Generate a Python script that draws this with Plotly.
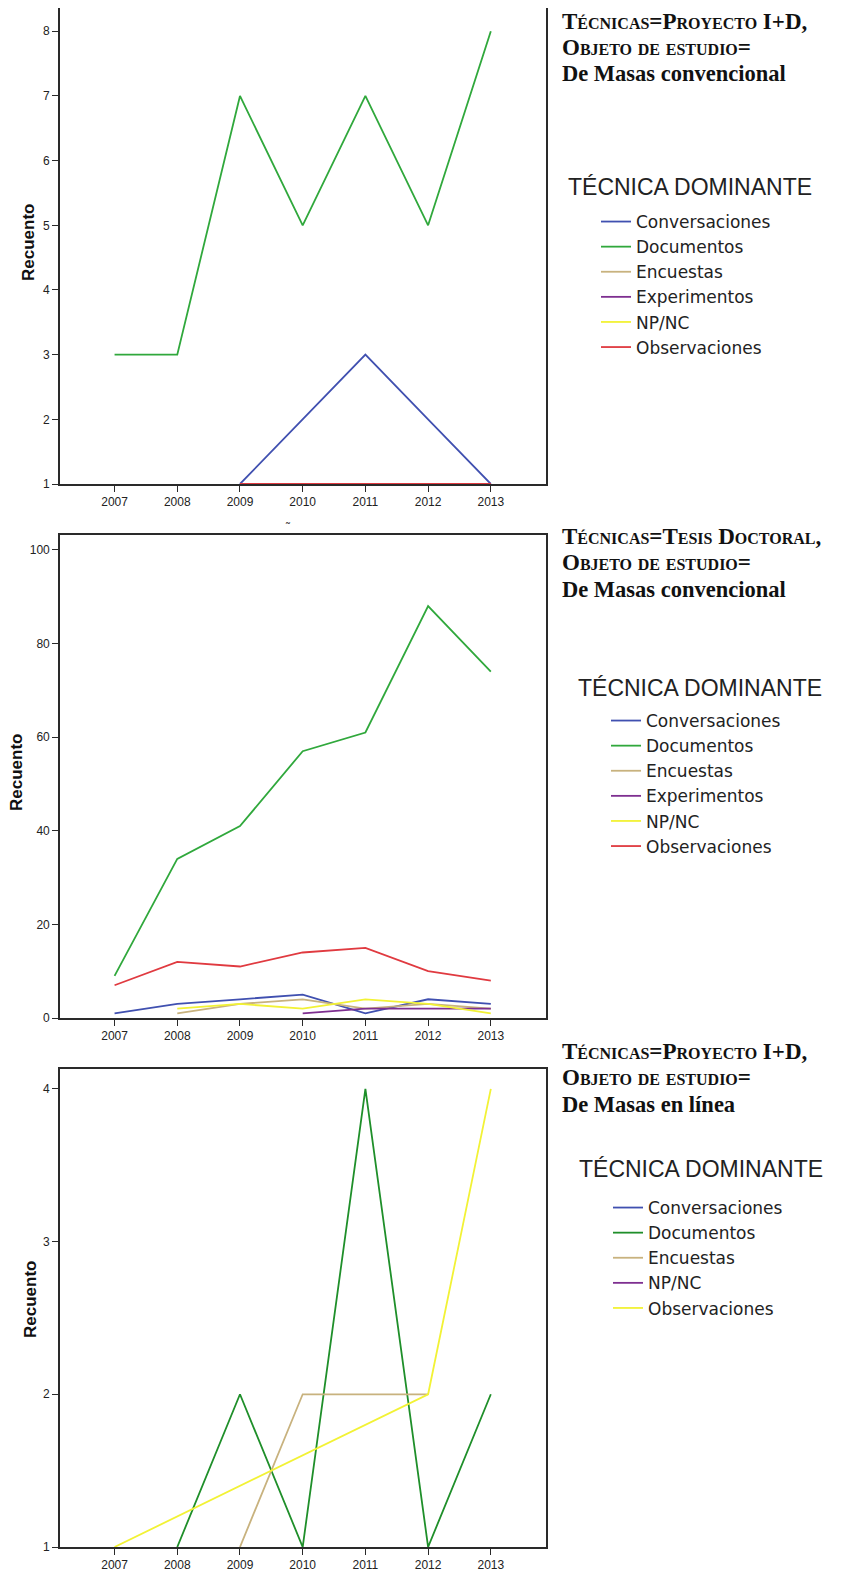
import plotly.graph_objects as go

# Page body has an 8px default margin; the figure is sized to fit the window.
OX, OY = 8, 8
FW, FH = 843 - OX, 1571 - OY

years = [2007, 2008, 2009, 2010, 2011, 2012, 2013]
tick_years = [2007, 2008, 2009, 2010, 2011, 2012, 2013]

# Chart 1: Técnicas=Proyecto I+D, De Masas convencional
c1_conversaciones = [None, None, 1, 2, 3, 2, 1]
c1_documentos = [3, 3, 7, 5, 7, 5, 8]
c1_encuestas = [None] * 7
c1_experimentos = [None] * 7
c1_npnc = [None] * 7
c1_observaciones = [None, None, 1, 1, 1, 1, 1]
c1_yticks = [1, 2, 3, 4, 5, 6, 7, 8]

# Chart 2: Técnicas=Tesis Doctoral, De Masas convencional
c2_conversaciones = [1, 3, 4, 5, 1, 4, 3]
c2_documentos = [9, 34, 41, 57, 61, 88, 74]
c2_encuestas = [None, 1, 3, 4, 2, 3, 2]
c2_experimentos = [None, None, None, 1, 2, 2, 2]
c2_npnc = [None, 2, 3, 2, 4, 3, 1]
c2_observaciones = [7, 12, 11, 14, 15, 10, 8]
c2_yticks = [0, 20, 40, 60, 80, 100]

# Chart 3: Técnicas=Proyecto I+D, De Masas en línea
c3_conversaciones = [None] * 7
c3_documentos = [None, 1, 2, 1, 4, 1, 2]
c3_encuestas = [None, None, 1, 2, 2, 2, None]
c3_npnc = [None] * 7
c3_observaciones = [1, None, None, None, None, 2, 4]
c3_yticks = [1, 2, 3, 4]

BLUE = "#4050b0"
GREEN = "#30a83c"
GREEN3 = "#1f8f2a"
TAN = "#c8b27e"
PURPLE = "#7e2f90"
YELLOW = "#f2f235"
RED = "#e03a40"


def px(x):
    return (x - OX) / FW


def py(y):
    return 1 - (y - OY) / FH


fig = go.Figure()

panels = [
    dict(ax="", top=8, bottom=484, yr=[1, 8.36], ticks=c1_yticks, legend="legend",
         series=[("Conversaciones", c1_conversaciones, BLUE),
                 ("Documentos", c1_documentos, GREEN),
                 ("Encuestas", c1_encuestas, TAN),
                 ("Experimentos", c1_experimentos, PURPLE),
                 ("NP/NC", c1_npnc, YELLOW),
                 ("Observaciones", c1_observaciones, RED)]),
    dict(ax="2", top=535, bottom=1018, yr=[0, 103.2], ticks=c2_yticks, legend="legend2",
         series=[("Conversaciones", c2_conversaciones, BLUE),
                 ("Documentos", c2_documentos, GREEN),
                 ("Encuestas", c2_encuestas, TAN),
                 ("Experimentos", c2_experimentos, PURPLE),
                 ("NP/NC", c2_npnc, YELLOW),
                 ("Observaciones", c2_observaciones, RED)]),
    dict(ax="3", top=1069, bottom=1547, yr=[1, 4.13], ticks=c3_yticks, legend="legend3",
         series=[("Conversaciones", c3_conversaciones, BLUE),
                 ("Documentos", c3_documentos, GREEN3),
                 ("Encuestas", c3_encuestas, TAN),
                 ("NP/NC", c3_npnc, PURPLE),
                 ("Observaciones", c3_observaciones, YELLOW)]),
]

axis_common = dict(showline=True, linecolor="#2a2a2a", linewidth=1.6, mirror=True,
                   ticks="outside", ticklen=6, tickwidth=1.4, tickcolor="#2a2a2a",
                   showgrid=False, zeroline=False, automargin=False,
                   tickfont=dict(family="Liberation Sans", size=12, color="#222"))

for p in panels:
    for name, vals, col in p["series"]:
        fig.add_trace(go.Scatter(x=years, y=vals, mode="lines", name=name,
                                 line=dict(color=col, width=1.8),
                                 connectgaps=True,
                                 xaxis="x" + p["ax"], yaxis="y" + p["ax"],
                                 legend=p["legend"]))
    xa = dict(axis_common, domain=[px(60), px(546)], range=[2006.13, 2013.88],
              tickvals=tick_years, anchor="y" + p["ax"])
    ya = dict(axis_common, domain=[max(0, py(p["bottom"])), min(1, py(p["top"]))],
              range=p["yr"], tickvals=p["ticks"], anchor="x" + p["ax"])
    fig.layout["xaxis" + p["ax"]] = xa
    fig.layout["yaxis" + p["ax"]] = ya

legend_common = dict(bgcolor="rgba(0,0,0,0)", borderwidth=0, xanchor="left", yanchor="top",
                     font=dict(family="DejaVu Sans", size=17, color="#222"),
                     tracegroupgap=0, itemwidth=30, traceorder="normal")
fig.update_layout(
    legend=dict(legend_common, x=px(596), y=py(204)),
    legend2=dict(legend_common, x=px(606), y=py(703)),
    legend3=dict(legend_common, x=px(608), y=py(1190)),
)

annotations = []
title_sets = [
    (560, [21, 47, 73], ["Técnicas=Proyecto I+D,", "Objeto de estudio=", "De Masas convencional"], 187, 566),
    (560, [536, 562, 589], ["Técnicas=Tesis Doctoral,", "Objeto de estudio=", "De Masas convencional"], 688, 576),
    (560, [1051, 1077, 1104], ["Técnicas=Proyecto I+D,", "Objeto de estudio=", "De Masas en línea"], 1169, 577),
]
for x0, ys, lines, ty, tx in title_sets:
    for i, (yy, txt) in enumerate(zip(ys, lines)):
        annotations.append(dict(
            x=px(x0), y=py(yy), xref="paper", yref="paper", xanchor="left", yanchor="middle",
            text=txt, showarrow=False,
            font=dict(family="Liberation Serif", size=23 if i < 2 else 22.5, color="#111",
                      weight="bold", variant="small-caps" if i < 2 else "normal")))
    annotations.append(dict(
        x=px(tx), y=py(ty), xref="paper", yref="paper", xanchor="left", yanchor="middle",
        text="TÉCNICA DOMINANTE", showarrow=False,
        font=dict(family="Liberation Sans", size=23, color="#222")))

for xx, yy in [(29, 243), (16, 773), (30, 1300)]:
    annotations.append(dict(
        x=px(xx), y=py(yy), xref="paper", yref="paper", xanchor="center", yanchor="middle",
        text="Recuento", textangle=-90, showarrow=False,
        font=dict(family="Liberation Sans", size=17, color="#111", weight="bold")))

annotations.append(dict(x=px(283), y=py(519), xref="paper", yref="paper", text="˜",
                        showarrow=False, font=dict(family="Liberation Sans", size=12, color="#333")))

fig.update_layout(
    width=FW, height=FH, margin=dict(l=0, r=0, t=0, b=0, autoexpand=False),
    paper_bgcolor="white", plot_bgcolor="white",
    annotations=annotations, showlegend=True,
)

fig.write_html("out.html")
